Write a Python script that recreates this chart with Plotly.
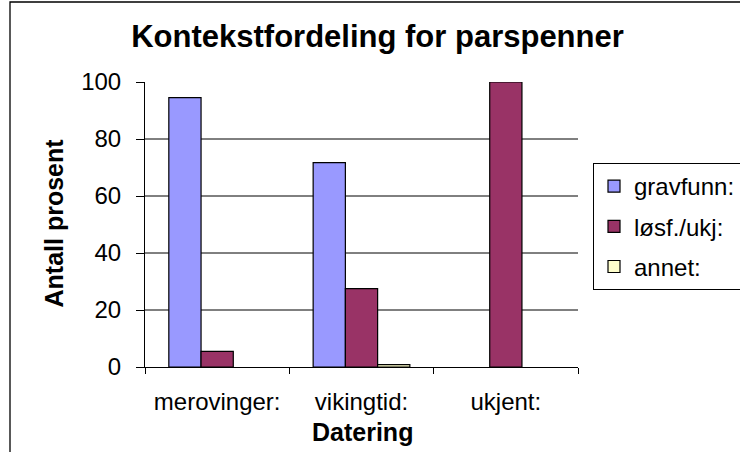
import plotly.graph_objects as go

categories = ["merovinger:", "vikingtid:", "ukjent:"]
series_names = ["gravfunn:", "løsf./ukj:", "annet:"]
gravfunn = [94.5, 71.7, 0]
losf_ukj = [5.5, 27.5, 100]
annet = [0, 0.8, 0]
colors = ["#9999FF", "#993366", "#FFFFCC"]
y_ticks = [0, 20, 40, 60, 80, 100]
grid_values = [20, 40, 60, 80]

FONT = "Arial, 'Liberation Sans', sans-serif"

fig = go.Figure()
for i, (name, vals) in enumerate(zip(series_names, [gravfunn, losf_ukj, annet])):
    fig.add_trace(go.Bar(
        x=categories, y=[v if v > 0 else None for v in vals], name=name, legendgroup=name,
        marker=dict(color=colors[i], line=dict(color="black", width=1.2)),
    ))

shapes = []
for g in grid_values:
    shapes.append(dict(type="line", xref="paper", yref="y", x0=0, x1=1, y0=g, y1=g,
                       line=dict(color="black", width=1), layer="below"))
# outer chart frame
shapes.append(dict(type="rect", xref="paper", yref="paper",
                   x0=(10 - 145) / 433, x1=(760 - 145) / 433,
                   y0=(367 - 470) / 285, y1=(367 - 2) / 285,
                   line=dict(color="black", width=1.3), fillcolor="rgba(0,0,0,0)", layer="below"))

fig.update_layout(
    width=740, height=452,
    margin=dict(l=145, r=740 - 578, t=82, b=452 - 367, autoexpand=False),
    paper_bgcolor="white", plot_bgcolor="white",
    barmode="group", bargap=0.33, bargroupgap=0,
    font=dict(family=FONT, size=24, color="black"),
    title=dict(text="<b>Kontekstfordeling for parspenner</b>", x=377.5 / 740, xanchor="center",
               y=1 - 36 / 452, yanchor="middle", yref="container",
               font=dict(family=FONT, size=31, color="black")),
    showlegend=True,
    legend=dict(x=(593 - 145) / 433, y=(367 - 163) / 285, xanchor="left", yanchor="top",
                bordercolor="black", borderwidth=1, bgcolor="white",
                font=dict(family=FONT, size=24, color="black"),
                tracegroupgap=6, traceorder="grouped"),
    shapes=shapes,
    annotations=[
        dict(text="<b>Antall prosent</b>", xref="paper", yref="paper",
             x=(53 - 145) / 433, y=(367 - 223.5) / 285, xanchor="center", yanchor="middle",
             textangle=-90, showarrow=False, font=dict(family=FONT, size=25, color="black")),
        dict(text="<b>Datering</b>", xref="paper", yref="paper",
             x=(362.5 - 145) / 433, y=(367 - 432) / 285, xanchor="center", yanchor="middle",
             showarrow=False, font=dict(family=FONT, size=25, color="black")),
    ],
)

fig.update_xaxes(
    type="category", showline=True, linecolor="black", linewidth=1, automargin=False,
    ticks="outside", tickson="boundaries", ticklen=6, tickcolor="black",
    showgrid=False, zeroline=False, ticklabelstandoff=13,
    tickfont=dict(family=FONT, size=24, color="black"),
)
fig.update_yaxes(
    range=[0, 100], tickvals=y_ticks, showline=True, linecolor="black", linewidth=1,
    automargin=False,
    ticks="outside", ticklen=8, tickcolor="black", showgrid=False, zeroline=False,
    ticklabelstandoff=10, tickfont=dict(family=FONT, size=24, color="black"),
)

fig.write_html("out.html", config={"displayModeBar": False},
               post_script="document.body.style.margin='0px';document.body.style.overflow='hidden';")
